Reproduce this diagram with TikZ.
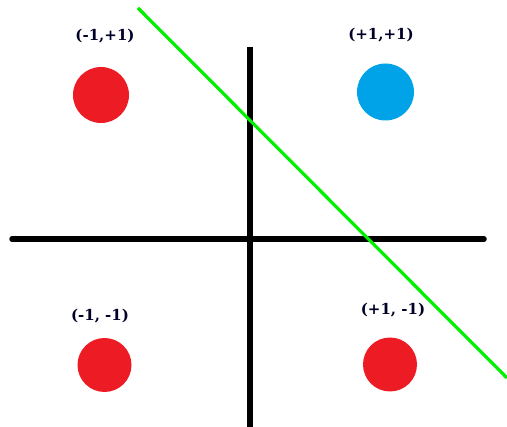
\documentclass[tikz,border=0pt]{standalone}
\usepackage{fontspec}
\newfontfamily\lblfont{DejaVu Serif}
\definecolor{pred}{HTML}{ED1C24}
\definecolor{pblue}{HTML}{00A2E8}
\definecolor{pgreen}{HTML}{00F000}
\begin{document}
\begin{tikzpicture}[x=1pt,y=-1pt,
  axis/.style={line width=5.5pt,line cap=round,black},
  dot/.style={circle,inner sep=0pt,minimum size=#1},
  lbl/.style={font=\lblfont\bfseries\fontsize{15}{16}\selectfont,text=black!85!blue,inner sep=0pt}]
\useasboundingbox (0,0) rectangle (507,427);
\coordinate (xl) at (12,239);
\coordinate (xr) at (484,239);
\coordinate (yt) at (250,47);
\coordinate (yb) at (250,427);
\draw[axis] (xl) -- (xr);
\draw[line width=5.5pt,black] (yt) -- (yb);
\node[dot=56pt,fill=pred] (a) at (101,95) {};
\node[dot=57pt,fill=pblue] (b) at (385.5,92) {};
\node[dot=54pt,fill=pred] (c) at (104.5,365) {};
\node[dot=54pt,fill=pred] (d) at (390,364.5) {};
\node[lbl] (la) at (105,36) {(-1,+1)};
\node[lbl] (lb) at (381,35) {(+1,+1)};
\node[lbl] (lc) at (100,316) {(-1, -1)};
\node[lbl] (ld) at (393,310) {(+1, -1)};
\coordinate (g1) at (138,8);
\coordinate (g2) at (507,378);
\draw[pgreen,line width=3.2pt] (g1) -- (g2);
\end{tikzpicture}
\end{document}
